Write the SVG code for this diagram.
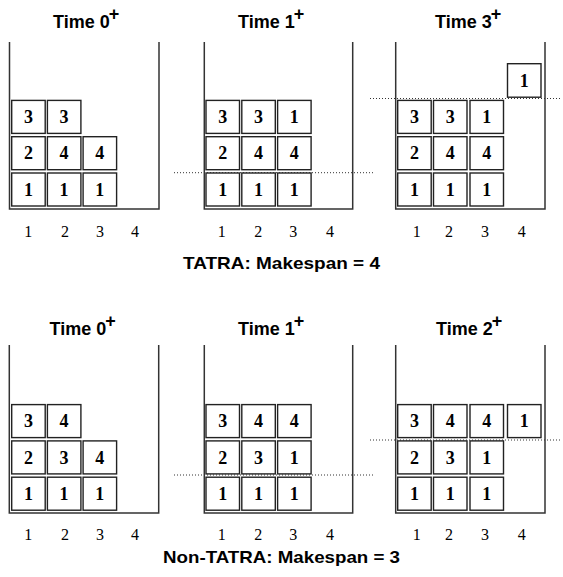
<svg xmlns="http://www.w3.org/2000/svg" width="563" height="577" viewBox="0 0 563 577">
<style>
.title{font-family:"Liberation Sans",Arial,sans-serif;font-weight:bold;font-size:18px;fill:#000}
.cap{font-family:"Liberation Sans",Arial,sans-serif;font-weight:bold;font-size:17px;fill:#000}
.ax{font-family:"Liberation Serif","Times New Roman",serif;font-size:16px;fill:#000;text-anchor:middle}
.wall{fill:none;stroke:#333;stroke-width:1.5}
.box rect{fill:#fff;stroke:#222;stroke-width:1.4}
.box text{font-family:"Liberation Serif","Times New Roman",serif;font-weight:bold;font-size:18px;text-anchor:middle;fill:#000}
.dot{stroke:#333;stroke-width:1;stroke-dasharray:1 2;fill:none}
</style>
<g id="connectors">
<line class="dot" x1="174" y1="172.7" x2="373" y2="172.7"/>
<line class="dot" x1="370" y1="98.5" x2="562" y2="98.5"/>
<line class="dot" x1="174" y1="475" x2="373" y2="475"/>
<line class="dot" x1="370" y1="440" x2="562" y2="440"/>
</g>
<!-- Top row: TATRA -->
<g id="tatra-t0">
<text class="title" x="53" y="28.3">Time 0<tspan dx="-1" dy="-8">+</tspan></text>
<polyline class="wall" points="9.5,42 9.5,209 159,209 159,42"/>
<g class="box"><rect x="11.7" y="173" width="33.5" height="33"/><text x="28.4" y="195.7">1</text></g>
<g class="box"><rect x="47.4" y="173" width="33.5" height="33"/><text x="64.1" y="195.7">1</text></g>
<g class="box"><rect x="83.1" y="173" width="33.5" height="33"/><text x="99.8" y="195.7">1</text></g>
<g class="box"><rect x="11.7" y="136.7" width="33.5" height="33"/><text x="28.4" y="159.4">2</text></g>
<g class="box"><rect x="47.4" y="136.7" width="33.5" height="33"/><text x="64.1" y="159.4">4</text></g>
<g class="box"><rect x="83.1" y="136.7" width="33.5" height="33"/><text x="99.8" y="159.4">4</text></g>
<g class="box"><rect x="11.7" y="100.4" width="33.5" height="33"/><text x="28.4" y="123.1">3</text></g>
<g class="box"><rect x="47.4" y="100.4" width="33.5" height="33"/><text x="64.1" y="123.1">3</text></g>
<text class="ax" x="28.3" y="237">1</text><text class="ax" x="65" y="237">2</text><text class="ax" x="100" y="237">3</text><text class="ax" x="135" y="237">4</text>
</g>
<g id="tatra-t1">
<text class="title" x="238" y="28.3">Time 1<tspan dx="-1" dy="-8">+</tspan></text>
<polyline class="wall" points="204.3,42 204.3,209 352.7,209 352.7,42"/>
<g class="box"><rect x="206" y="173" width="33.5" height="33"/><text x="222.7" y="195.7">1</text></g>
<g class="box"><rect x="241.8" y="173" width="33.5" height="33"/><text x="258.5" y="195.7">1</text></g>
<g class="box"><rect x="277.6" y="173" width="33.5" height="33"/><text x="294.3" y="195.7">1</text></g>
<g class="box"><rect x="206" y="136.7" width="33.5" height="33"/><text x="222.7" y="159.4">2</text></g>
<g class="box"><rect x="241.8" y="136.7" width="33.5" height="33"/><text x="258.5" y="159.4">4</text></g>
<g class="box"><rect x="277.6" y="136.7" width="33.5" height="33"/><text x="294.3" y="159.4">4</text></g>
<g class="box"><rect x="206" y="100.4" width="33.5" height="33"/><text x="222.7" y="123.1">3</text></g>
<g class="box"><rect x="241.8" y="100.4" width="33.5" height="33"/><text x="258.5" y="123.1">3</text></g>
<g class="box"><rect x="277.6" y="100.4" width="33.5" height="33"/><text x="294.3" y="123.1">1</text></g>
<text class="ax" x="221.7" y="237">1</text><text class="ax" x="258.3" y="237">2</text><text class="ax" x="293.3" y="237">3</text><text class="ax" x="330" y="237">4</text>
</g>
<g id="tatra-t3">
<text class="title" x="435" y="28.3">Time 3<tspan dx="-1" dy="-8">+</tspan></text>
<polyline class="wall" points="395.7,42 395.7,209 545,209 545,42"/>
<g class="box"><rect x="397.7" y="173" width="33.5" height="33"/><text x="414.4" y="195.7">1</text></g>
<g class="box"><rect x="433.5" y="173" width="33.5" height="33"/><text x="450.2" y="195.7">1</text></g>
<g class="box"><rect x="470" y="173" width="33.5" height="33"/><text x="486.7" y="195.7">1</text></g>
<g class="box"><rect x="397.7" y="136.7" width="33.5" height="33"/><text x="414.4" y="159.4">2</text></g>
<g class="box"><rect x="433.5" y="136.7" width="33.5" height="33"/><text x="450.2" y="159.4">4</text></g>
<g class="box"><rect x="470" y="136.7" width="33.5" height="33"/><text x="486.7" y="159.4">4</text></g>
<g class="box"><rect x="397.7" y="100.4" width="33.5" height="33"/><text x="414.4" y="123.1">3</text></g>
<g class="box"><rect x="433.5" y="100.4" width="33.5" height="33"/><text x="450.2" y="123.1">3</text></g>
<g class="box"><rect x="470" y="100.4" width="33.5" height="33"/><text x="486.7" y="123.1">1</text></g>
<g class="box"><rect x="507.5" y="63.7" width="33.5" height="33.5"/><text x="524.2" y="86.6">1</text></g>
<text class="ax" x="416.7" y="237">1</text><text class="ax" x="449" y="237">2</text><text class="ax" x="485" y="237">3</text><text class="ax" x="521.7" y="237">4</text>
</g>
<text class="cap" x="183" y="269" textLength="197" lengthAdjust="spacingAndGlyphs">TATRA: Makespan = 4</text>
<!-- Bottom row: Non-TATRA -->
<g id="non-t0">
<text class="title" x="49.5" y="334.5">Time 0<tspan dx="-1" dy="-8">+</tspan></text>
<polyline class="wall" points="9.3,345 9.3,513 158.7,513 158.7,345"/>
<g class="box"><rect x="11.7" y="477.2" width="33.5" height="33"/><text x="28.4" y="499.9">1</text></g>
<g class="box"><rect x="47.4" y="477.2" width="33.5" height="33"/><text x="64.1" y="499.9">1</text></g>
<g class="box"><rect x="83.1" y="477.2" width="33.5" height="33"/><text x="99.8" y="499.9">1</text></g>
<g class="box"><rect x="11.7" y="440.9" width="33.5" height="33"/><text x="28.4" y="463.6">2</text></g>
<g class="box"><rect x="47.4" y="440.9" width="33.5" height="33"/><text x="64.1" y="463.6">3</text></g>
<g class="box"><rect x="83.1" y="440.9" width="33.5" height="33"/><text x="99.8" y="463.6">4</text></g>
<g class="box"><rect x="11.7" y="404.6" width="33.5" height="33"/><text x="28.4" y="427.3">3</text></g>
<g class="box"><rect x="47.4" y="404.6" width="33.5" height="33"/><text x="64.1" y="427.3">4</text></g>
<text class="ax" x="28.3" y="540">1</text><text class="ax" x="65" y="540">2</text><text class="ax" x="100" y="540">3</text><text class="ax" x="135" y="540">4</text>
</g>
<g id="non-t1">
<text class="title" x="238" y="334.5">Time 1<tspan dx="-1" dy="-8">+</tspan></text>
<polyline class="wall" points="204.3,345 204.3,513 352.7,513 352.7,345"/>
<g class="box"><rect x="206" y="477.2" width="33.5" height="33"/><text x="222.7" y="499.9">1</text></g>
<g class="box"><rect x="241.8" y="477.2" width="33.5" height="33"/><text x="258.5" y="499.9">1</text></g>
<g class="box"><rect x="277.6" y="477.2" width="33.5" height="33"/><text x="294.3" y="499.9">1</text></g>
<g class="box"><rect x="206" y="440.9" width="33.5" height="33"/><text x="222.7" y="463.6">2</text></g>
<g class="box"><rect x="241.8" y="440.9" width="33.5" height="33"/><text x="258.5" y="463.6">3</text></g>
<g class="box"><rect x="277.6" y="440.9" width="33.5" height="33"/><text x="294.3" y="463.6">1</text></g>
<g class="box"><rect x="206" y="404.6" width="33.5" height="33"/><text x="222.7" y="427.3">3</text></g>
<g class="box"><rect x="241.8" y="404.6" width="33.5" height="33"/><text x="258.5" y="427.3">4</text></g>
<g class="box"><rect x="277.6" y="404.6" width="33.5" height="33"/><text x="294.3" y="427.3">4</text></g>
<text class="ax" x="221.7" y="540">1</text><text class="ax" x="258.3" y="540">2</text><text class="ax" x="293.3" y="540">3</text><text class="ax" x="330" y="540">4</text>
</g>
<g id="non-t2">
<text class="title" x="436" y="334.5">Time 2<tspan dx="-1" dy="-8">+</tspan></text>
<polyline class="wall" points="395.7,345 395.7,513 545,513 545,345"/>
<g class="box"><rect x="397.7" y="477.2" width="33.5" height="33"/><text x="414.4" y="499.9">1</text></g>
<g class="box"><rect x="433.5" y="477.2" width="33.5" height="33"/><text x="450.2" y="499.9">1</text></g>
<g class="box"><rect x="470" y="477.2" width="33.5" height="33"/><text x="486.7" y="499.9">1</text></g>
<g class="box"><rect x="397.7" y="440.9" width="33.5" height="33"/><text x="414.4" y="463.6">2</text></g>
<g class="box"><rect x="433.5" y="440.9" width="33.5" height="33"/><text x="450.2" y="463.6">3</text></g>
<g class="box"><rect x="470" y="440.9" width="33.5" height="33"/><text x="486.7" y="463.6">1</text></g>
<g class="box"><rect x="397.7" y="404.6" width="33.5" height="33"/><text x="414.4" y="427.3">3</text></g>
<g class="box"><rect x="433.5" y="404.6" width="33.5" height="33"/><text x="450.2" y="427.3">4</text></g>
<g class="box"><rect x="470" y="404.6" width="33.5" height="33"/><text x="486.7" y="427.3">4</text></g>
<g class="box"><rect x="507.5" y="404.6" width="33.5" height="33"/><text x="524.2" y="427.3">1</text></g>
<text class="ax" x="416.7" y="540">1</text><text class="ax" x="449" y="540">2</text><text class="ax" x="485" y="540">3</text><text class="ax" x="521.7" y="540">4</text>
</g>
<text class="cap" x="163" y="563" textLength="237" lengthAdjust="spacingAndGlyphs">Non-TATRA: Makespan = 3</text>
</svg>
